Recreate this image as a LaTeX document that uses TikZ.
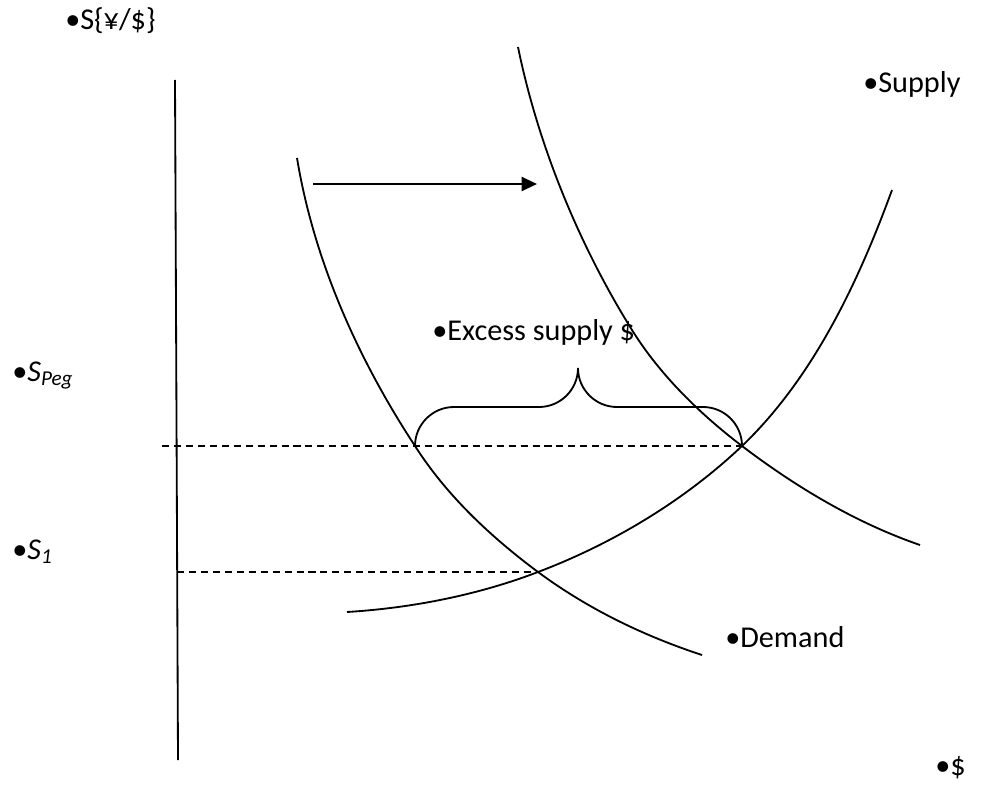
\documentclass[tikz,border=0pt]{standalone}
\usepackage{fontspec}
\setmainfont{Carlito}
\usetikzlibrary{positioning,arrows.meta}
\tikzset{
  curve/.style={line width=1.3pt, draw=black},
  axis/.style={line width=1.3pt, draw=black},
  guide/.style={line width=1.2pt, dash pattern=on 5pt off 3.5pt},
  shiftarrow/.style={line width=1.6pt, -{Triangle[length=11pt,width=10pt]}},
  bracket/.style={line width=1.3pt, draw=black},
  lbl/.style={anchor=base west, inner sep=0pt, font=\fontsize{21.5}{25}\selectfont}
}
\begin{document}
\begin{tikzpicture}[x=0.025cm, y=-0.025cm]
    \useasboundingbox (0,0) rectangle (999,788);

    % axis
    \coordinate (yTop) at (175,80);
    \coordinate (yBot) at (178,760);
    \draw[axis] (yTop) -- (yBot);

    % crossing points
    \coordinate (pegL) at (162,446);
    \coordinate (pegD) at (415,446);
    \coordinate (pegS) at (742,446);
    \coordinate (oneL) at (177,572);
    \coordinate (eqA)  at (538,572);

    \draw[guide] (pegL) -- (pegS);
    \draw[guide] (oneL) -- (eqA);

    % demand, before and after the shift
    \coordinate (d1a) at (297,158);
    \coordinate (d1b) at (702,655);
    \draw[curve] (d1a) .. controls (314,261) and (358,359) .. (pegD)
                       .. controls (447,496) and (491,537) .. (eqA)
                       .. controls (588,609) and (644,636) .. (d1b);

    \coordinate (d2a) at (518,47);
    \coordinate (d2m) at (632,330);
    \coordinate (d2b) at (920,545);
    \draw[curve] (d2a) .. controls (538,145) and (579,245) .. (d2m)
                       .. controls (660,375) and (700,414) .. (pegS)
                       .. controls (796,487) and (856,523) .. (d2b);

    % supply
    \coordinate (sa) at (347,612);
    \coordinate (sb) at (892,190);
    \draw[curve] (sa) .. controls (412,608) and (478,595) .. (eqA)
                      .. controls (612,544) and (684,501) .. (pegS)
                      .. controls (813,378) and (858,283) .. (sb);

    % shift of demand
    \coordinate (arrL) at (313,184);
    \coordinate (arrR) at (537,184);
    \draw[shiftarrow] (arrL) -- (arrR);

    % excess supply brace
    \draw[bracket] (pegD) .. controls +(0,-21.5) and +(-21.5,0) .. ++(39,-39)
        -- ++(85,0)
        .. controls +(21.5,0) and +(0,21.5) .. ++(39,-39)
        .. controls +(0,21.5) and +(-21.5,0) .. ++(39,39)
        -- ++(86,0)
        .. controls +(21.5,0) and +(0,-21.5) .. (pegS);

    % labels
    \node[lbl] (yLbl)   at (65,30)   {•S\{¥/\$\}};
    \node[lbl] (supLbl) at (863,93)  {•Supply};
    \node[lbl] (exLbl)  at (432,340) {•Excess supply \$};
    \node[lbl] (pegLbl) at (12,381)  {•\textit{S}\textsubscript{\textit{Peg}}};
    \node[lbl] (oneLbl) at (12,559)  {•\textit{S}\textsubscript{\textit{1}}};
    \node[lbl] (demLbl) at (725,647) {•Demand};
    \node[lbl] (xLbl)   at (935,775) {•\$};
\end{tikzpicture}
\end{document}
